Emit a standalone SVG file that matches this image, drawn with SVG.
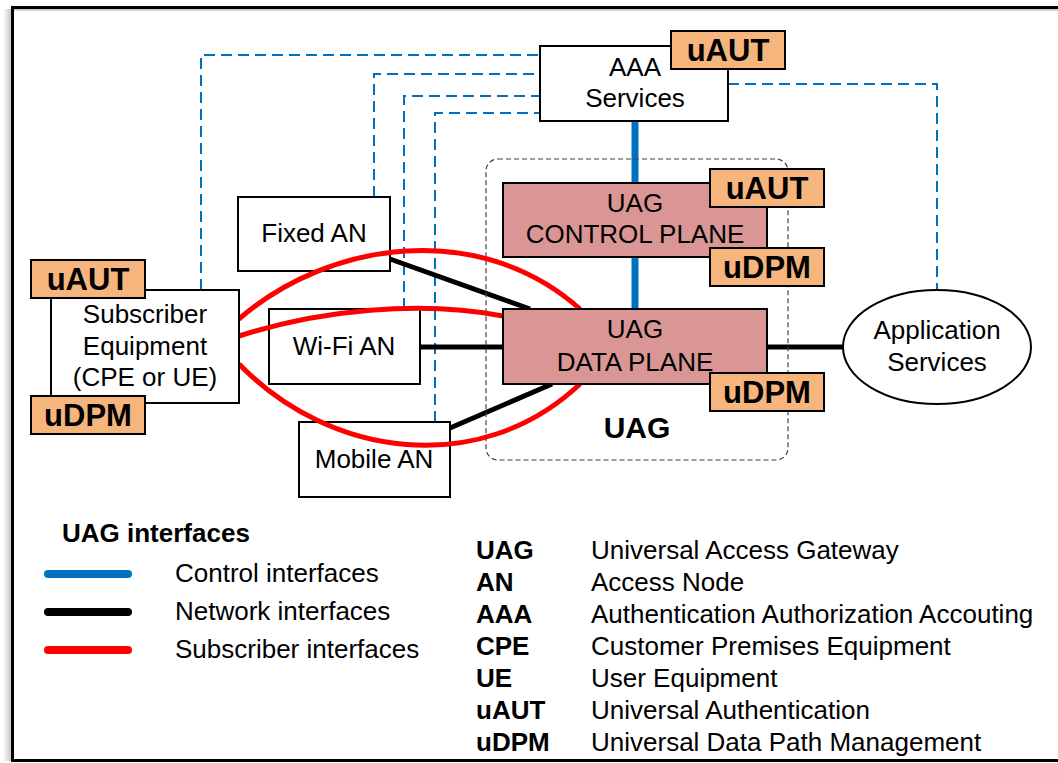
<svg xmlns="http://www.w3.org/2000/svg" width="1058" height="763" viewBox="0 0 1058 763">
  <defs>
    <linearGradient id="edgeShade" x1="0" y1="0" x2="1" y2="0">
      <stop offset="0" stop-color="#ffffff"/>
      <stop offset="1" stop-color="#c8c8c8"/>
    </linearGradient>
    <style>
      text { font-family: "Liberation Sans", Arial, sans-serif; fill: #000; }
      .lbl { font-size: 26px; }
      .mid { text-anchor: middle; }
      .b { font-weight: bold; }
      .badgeTxt { font-size: 31px; font-weight: bold; text-anchor: middle; }
      .box { fill: #ffffff; stroke: #000; stroke-width: 2; }
      .plane { fill: #D99694; stroke: #000; stroke-width: 2; }
      .badge { fill: #F7B57E; stroke: #000; stroke-width: 2; }
      .ctrlDash { fill: none; stroke: #0070C0; stroke-width: 2; stroke-dasharray: 11 6; }
      .ctrl { fill: none; stroke: #0070C0; stroke-width: 7; }
      .net { fill: none; stroke: #000; stroke-width: 5; }
      .sub { fill: none; stroke: #FF0000; stroke-width: 5; }
      .legendLine { stroke-width: 8; stroke-linecap: round; }
    </style>
  </defs>

  <!-- page frame -->
  <rect x="0" y="0" width="1058" height="763" fill="#ffffff"/>
  <rect x="3" y="9" width="8" height="752" fill="url(#edgeShade)"/>
  <line x1="13" y1="10" x2="1058" y2="10" stroke="#a0a0a0" stroke-width="1"/>
  <rect x="12.5" y="7.5" width="1060" height="753" fill="none" stroke="#000" stroke-width="3"/>

  <!-- connectors -->
  <g id="connectors">
    <!-- AAA signalling (dashed) -->
    <path class="ctrlDash" d="M201,290 V55 H540"/>
    <path class="ctrlDash" d="M374,197 V74 H540"/>
    <path class="ctrlDash" d="M404,309 V96 H540"/>
    <path class="ctrlDash" d="M435,422 V113 H540"/>
    <path class="ctrlDash" d="M728,84 H937 V290"/>

    <!-- control interfaces -->
    <line class="ctrl" x1="635" y1="121" x2="635" y2="183"/>
    <line class="ctrl" x1="635" y1="257" x2="635" y2="309"/>

    <!-- network interfaces -->
    <line class="net" x1="390" y1="259" x2="530" y2="309"/>
    <line class="net" x1="420" y1="347" x2="503" y2="347"/>
    <line class="net" x1="450" y1="428" x2="552" y2="384"/>
    <line class="net" x1="767" y1="347" x2="843" y2="347"/>
  </g>

  <!-- UAG container -->
  <g id="uag">
    <rect x="486" y="159" width="302" height="301" rx="12" fill="none" stroke="#444" stroke-width="1.2" stroke-dasharray="5 3"/>
    <text class="b mid" x="637" y="438" style="font-size:30px">UAG</text>
  </g>

  <g id="aaa">
    <rect class="box" x="540" y="46" width="188" height="75"/>
    <text class="lbl mid" x="635" y="76">AAA</text>
    <text class="lbl mid" x="635" y="107">Services</text>
    <rect class="badge" x="671" y="31" width="114" height="38"/>
    <text class="badgeTxt" x="728" y="61">uAUT</text>
  </g>

  <g id="fixed-an">
    <rect class="box" x="238" y="197" width="152" height="74"/>
    <text class="lbl mid" x="314" y="242">Fixed AN</text>
  </g>

  <g id="wifi-an">
    <rect class="box" x="269" y="309" width="151" height="75"/>
    <text class="lbl mid" x="344" y="355">Wi-Fi AN</text>
  </g>

  <g id="mobile-an">
    <rect class="box" x="299" y="422" width="151" height="75"/>
    <text class="lbl mid" x="374" y="468">Mobile AN</text>
  </g>

  <!-- subscriber interfaces drawn over the access nodes -->
  <g id="subscriber-links">
    <path class="sub" d="M239,319 C330,240 480,220 580,309"/>
    <path class="sub" d="M239,336 C320,310 420,300 503,316"/>
    <path class="sub" d="M239,364 C330,458 480,478 580,384"/>
  </g>

  <g id="subscriber">
    <rect class="box" x="51" y="290" width="188" height="113"/>
    <text class="lbl mid" x="145" y="323">Subscriber</text>
    <text class="lbl mid" x="145" y="355">Equipment</text>
    <text class="lbl mid" x="145" y="386">(CPE or UE)</text>
    <rect class="badge" x="31" y="260" width="114" height="38"/>
    <text class="badgeTxt" x="88" y="290">uAUT</text>
    <rect class="badge" x="31" y="396" width="114" height="38"/>
    <text class="badgeTxt" x="88" y="426">uDPM</text>
  </g>

  <g id="control-plane">
    <rect class="plane" x="503" y="183" width="264" height="74"/>
    <text class="lbl mid" x="635" y="212">UAG</text>
    <text class="lbl mid" x="635" y="243">CONTROL PLANE</text>
    <rect class="badge" x="710" y="169" width="114" height="38"/>
    <text class="badgeTxt" x="767" y="199">uAUT</text>
    <rect class="badge" x="710" y="248" width="114" height="38"/>
    <text class="badgeTxt" x="767" y="278">uDPM</text>
  </g>

  <g id="data-plane">
    <rect class="plane" x="503" y="309" width="264" height="75"/>
    <text class="lbl mid" x="635" y="338">UAG</text>
    <text class="lbl mid" x="635" y="371">DATA PLANE</text>
    <rect class="badge" x="710" y="373" width="114" height="38"/>
    <text class="badgeTxt" x="767" y="403">uDPM</text>
  </g>

  <g id="application">
    <ellipse cx="937" cy="347" rx="94" ry="57" fill="#ffffff" stroke="#000" stroke-width="2"/>
    <text class="lbl mid" x="937" y="339">Application</text>
    <text class="lbl mid" x="937" y="371">Services</text>
  </g>

  <!-- interface legend -->
  <g id="legend">
    <text class="lbl b" x="62" y="542">UAG interfaces</text>
    <line class="legendLine" x1="48" y1="574" x2="128" y2="574" stroke="#0070C0"/>
    <line class="legendLine" x1="48" y1="612" x2="128" y2="612" stroke="#000"/>
    <line class="legendLine" x1="48" y1="650" x2="128" y2="650" stroke="#FF0000"/>
    <text class="lbl" x="175" y="582">Control interfaces</text>
    <text class="lbl" x="175" y="620">Network interfaces</text>
    <text class="lbl" x="175" y="658">Subscriber interfaces</text>
  </g>

  <!-- abbreviations -->
  <g id="glossary">
    <text class="lbl b" x="476" y="559">UAG</text>
    <text class="lbl" x="591" y="559">Universal Access Gateway</text>
    <text class="lbl b" x="476" y="591">AN</text>
    <text class="lbl" x="591" y="591">Access Node</text>
    <text class="lbl b" x="476" y="623">AAA</text>
    <text class="lbl" x="591" y="623">Authentication Authorization Accouting</text>
    <text class="lbl b" x="476" y="655">CPE</text>
    <text class="lbl" x="591" y="655">Customer Premises Equipment</text>
    <text class="lbl b" x="476" y="687">UE</text>
    <text class="lbl" x="591" y="687">User Equipment</text>
    <text class="lbl b" x="476" y="719">uAUT</text>
    <text class="lbl" x="591" y="719">Universal Authentication</text>
    <text class="lbl b" x="476" y="751">uDPM</text>
    <text class="lbl" x="591" y="751">Universal Data Path Management</text>
  </g>
</svg>
